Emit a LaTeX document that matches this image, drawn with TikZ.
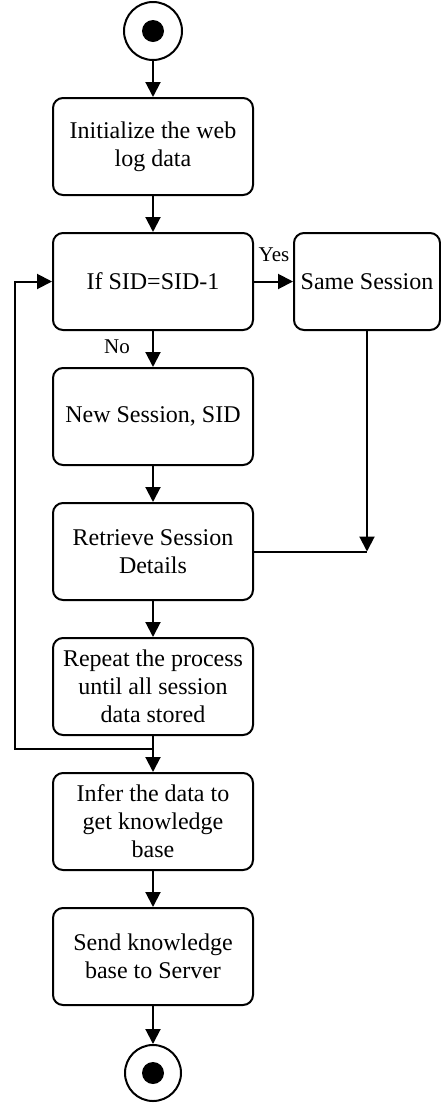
\documentclass[tikz,border=0pt]{standalone}
\usepackage{fontspec}
\setmainfont{Liberation Serif}
\usetikzlibrary{arrows.meta}

\begin{document}
\begin{tikzpicture}
  [x=1pt, y=-1pt, line width=2pt,
   abox/.style={draw, rounded corners=10pt, minimum width=200pt, minimum height=97pt,
                inner sep=0, align=center, font=\fontsize{24pt}{28pt}\selectfont},
   lbl/.style={inner sep=0, font=\fontsize{21pt}{24pt}\selectfont},
   arr/.style={-{Triangle[length=15pt, width=15pt]}},
   ring/.style={draw, circle, inner sep=0},
   dot/.style={fill, circle, inner sep=0, minimum size=22pt}]

  \useasboundingbox (0,0) rectangle (441,1104);

  % start and end
  \node[ring, minimum size=58pt] (start) at (153,31) {};
  \node[dot] at (start) {};
  \node[ring, minimum size=56pt] (stop) at (153,1073) {};
  \node[dot] at (stop) {};

  % main column
  \node[abox] (init)   at (153,146.5) {Initialize the web\\log data};
  \node[abox] (check)  at (153,281.5) {If SID=SID-1};
  \node[abox] (newses) at (153,416.5) {New Session, SID};
  \node[abox] (detail) at (153,551.5) {Retrieve Session\\Details};
  \node[abox] (repeat) at (153,686.5) {Repeat the process\\until all session\\data stored};
  \node[abox] (infer)  at (153,821.5) {Infer the data to\\get knowledge\\base};
  \node[abox] (send)   at (153,956.5) {Send knowledge\\base to Server};

  % side box
  \node[abox, minimum width=146pt] (same) at (367,281.5) {Same Session};

  \draw[arr] (start) -- (init);
  \draw[arr] (init) -- (check);
  \draw[arr] (check) -- (newses);
  \draw[arr] (newses) -- (detail);
  \draw[arr] (detail) -- (repeat);
  \draw[arr] (repeat) -- (infer);
  \draw[arr] (infer) -- (send);
  \draw[arr] (send) -- (stop);

  % yes branch
  \draw[arr] (check) -- (same);
  \node[lbl] (yes) at (274,255) {Yes};
  \node[lbl] (no)  at (117,347) {No};
  \coordinate (meet) at (same.south |- detail.east);
  \draw[arr] (same) -- (meet);
  \draw (detail.east) -- (meet);

  % loop back
  \coordinate (join) at (153,749);
  \coordinate (back) at (15,749);
  \draw[arr] (join) -- (back) |- (check.west);

\end{tikzpicture}
\end{document}
